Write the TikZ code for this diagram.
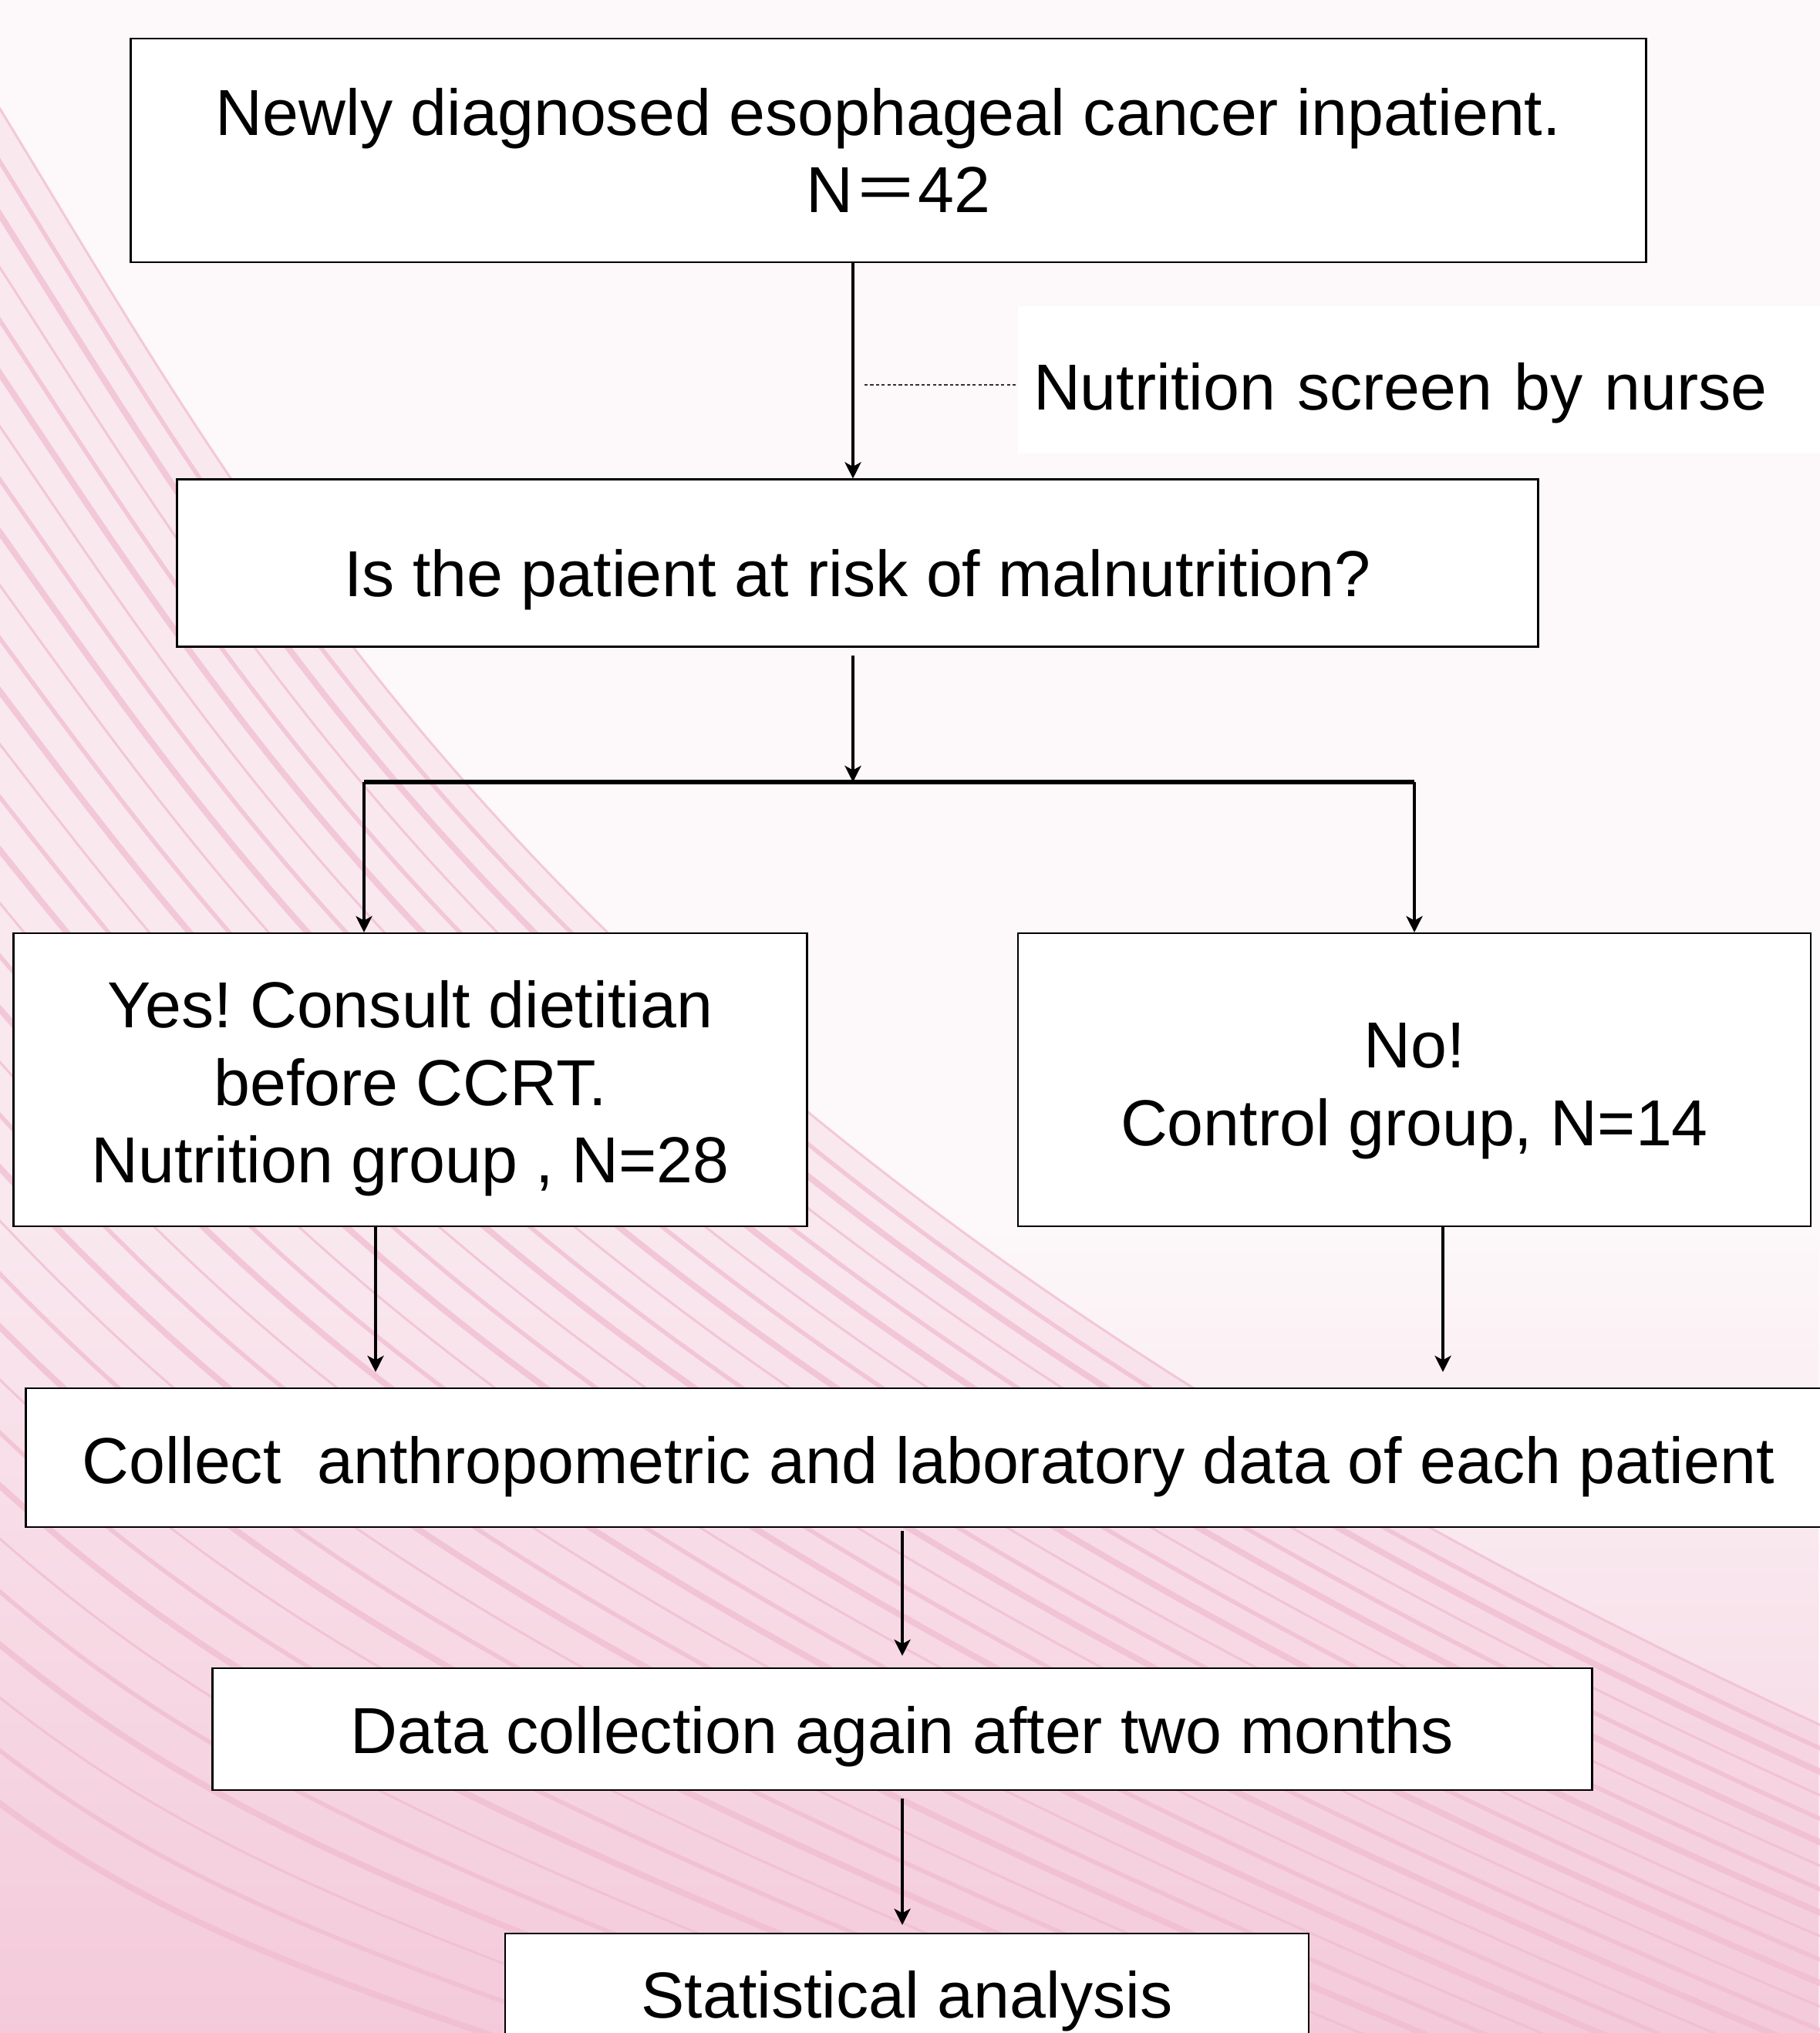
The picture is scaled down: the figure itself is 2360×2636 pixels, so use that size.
\documentclass[tikz,border=0pt]{standalone}
\usepackage{fontspec}
\setmainfont{Liberation Sans}
\newfontfamily\cjkfont{Noto Sans CJK SC}
\usetikzlibrary{arrows.meta,positioning,fadings}
\frenchspacing

\definecolor{bgtop}{RGB}{253,248,250}
\definecolor{bgbot}{RGB}{242,190,210}
\definecolor{bandpink}{RGB}{250,232,239}
\definecolor{stripepink}{RGB}{240,188,208}

% invisible strut that pushes a node's text down
\newcommand{\dropto}[1]{\rule{0pt}{#1}}

\tikzset{
  box/.style={draw=black, line width=0.6pt, fill=white, align=center, inner sep=0pt},
  arr/.style={line width=1.1pt, -{Stealth[length=6pt,width=6pt,inset=1.6pt]}},
  bar/.style={line width=1.5pt},
  dashline/.style={line width=0.6pt, black!80, dash pattern=on 1.2pt off 0.9pt},
  stripe/.style={stripepink, opacity=0.75},
}

\begin{document}
\begin{tikzpicture}[x=0.1mm, y=-0.1mm, font=\fontsize{24}{28.7}\selectfont]
  \useasboundingbox (0,0) rectangle (2360,2636);
  \clip (0,0) rectangle (2360,2636);

  % background
  \fill[bgtop] (0,0) rectangle (2360,2636);
  \fill[bandpink] (-50,60) .. controls (350,700) and (700,1500) .. (2500,2300)
    -- (2500,2700) -- (-50,2700) -- cycle;
  \fill[bgbot, opacity=0.7, path fading=north] (0,1600) rectangle (2360,2636);
  \foreach \k in {0,...,32}
    \draw[stripe, line width={(0.03+0.025*mod(\k,3))*1cm}]
      (-50,60+70*\k) .. controls (350,700+60*\k) and (700,1500+35*\k) .. (2500,2300+30*\k);

  % boxes
  \node[box, minimum width=19.65cm, minimum height=2.9cm] (diag) at (1152,195)
    {Newly diagnosed esophageal cancer inpatient.\\\hspace*{7.5pt}N{\cjkfont ＝}42};
  \node[fill=white, text width=10cm, inner xsep=0.2cm, minimum height=1.91cm, align=left] (screen) at (1840,492)
    {\dropto{27.6pt}Nutrition screen by nurse};
  \node[box, minimum width=17.65cm, minimum height=2.17cm] (risk) at (1112,730)
    {\dropto{29.7pt}Is the patient at risk of malnutrition?};
  \node[box, minimum width=10.29cm, minimum height=3.8cm] (yes) at (532,1400)
    {\dropto{23.8pt}Yes! Consult dietitian\\before CCRT.\\Nutrition group , N=28};
  \node[box, minimum width=10.28cm, minimum height=3.8cm] (no) at (1834,1400)
    {\dropto{24.8pt}No!\\Control group, N=14};
  \node[box, minimum width=23.41cm, minimum height=1.8cm] (collect) at (1204,1890)
    {\dropto{23.8pt}Collect\ \ anthropometric and laboratory data of each patient};
  \node[box, minimum width=17.89cm, minimum height=1.58cm] (again) at (1170,2242)
    {\dropto{23pt}Data collection again after two months};
  \node[box, minimum width=10.42cm, minimum height=1.6cm] (stats) at (1176,2587)
    {\dropto{22pt}Statistical analysis};

  % connectors
  \coordinate (trunk) at (1106,0);
  \coordinate (tap) at (1121,499);
  \coordinate (fork) at (1106,1014);
  \coordinate (forkL) at (472,1014);
  \draw[arr] (diag.south -| trunk) -- (risk.north -| trunk);
  \draw[dashline] (tap) -- (tap -| screen.west);
  \draw[arr, shorten <=0.1cm] (risk.south -| fork) -- (fork);
  \draw[bar] (forkL) -- (fork -| no.north);
  \draw[arr] (forkL) -- (forkL |- yes.north);
  \draw[arr] (fork -| no.north) -- (no.north);
  \draw[arr, shorten >=0.2cm] ([xshift=-0.45cm]yes.south) -- ([xshift=-0.45cm]yes.south |- collect.north);
  \draw[arr, shorten >=0.2cm] ([xshift=0.37cm]no.south) -- ([xshift=0.37cm]no.south |- collect.north);
  \draw[arr, shorten <=0.04cm, shorten >=0.15cm] (collect.south -| again.north) -- (again.north);
  \draw[arr, shorten <=0.1cm, shorten >=0.1cm] (again.south) -- (again.south |- stats.north);
\end{tikzpicture}
\end{document}
